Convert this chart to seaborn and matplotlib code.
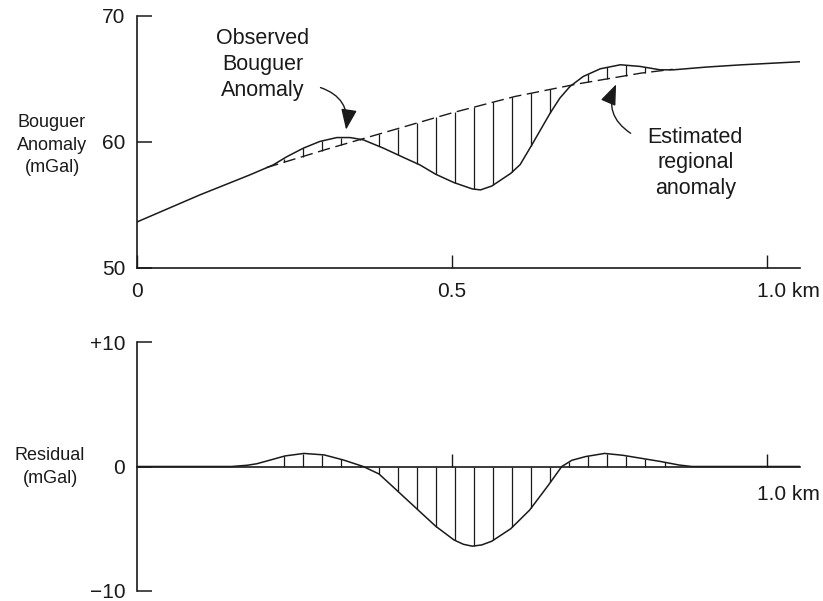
import matplotlib
matplotlib.use("Agg")
import numpy as np
import matplotlib.pyplot as plt
import matplotlib.transforms as mtransforms
from matplotlib.patches import FancyArrowPatch
import seaborn as sns

# Observed Bouguer anomaly along the profile (distance in km, anomaly in mGal)
obs_km = [0.0, 0.1, 0.179, 0.216, 0.238, 0.264, 0.29, 0.317, 0.338, 0.359,
          0.391, 0.423, 0.449, 0.474, 0.503, 0.532, 0.545, 0.563, 0.593,
          0.608, 0.6265, 0.6556, 0.671, 0.687, 0.708, 0.735, 0.767, 0.798,
          0.830, 0.851, 0.904, 0.957, 1.052]
obs_mgal = [53.65, 55.8, 57.38, 58.17, 58.83, 59.5, 60.03, 60.34, 60.34, 60.16,
            59.5, 58.76, 58.17, 57.43, 56.77, 56.27, 56.19, 56.5, 57.5,
            58.2, 59.76, 62.28, 63.47, 64.39, 65.18, 65.79, 66.11, 65.98,
            65.71, 65.71, 65.93, 66.1, 66.35]

# Estimated regional trend (dashed)
reg_km = [0.205, 0.30, 0.40, 0.50, 0.60, 0.70, 0.80, 0.85]
reg_mgal = [57.95, 59.4, 60.85, 62.3, 63.6, 64.6, 65.45, 65.75]

# Residual anomaly = observed - regional
res_km = [0.0, 0.15, 0.175, 0.19, 0.203, 0.235, 0.265, 0.297, 0.327, 0.359,
          0.384, 0.413, 0.444, 0.474, 0.503, 0.518, 0.532, 0.547, 0.563,
          0.593, 0.623, 0.652, 0.674, 0.69, 0.712, 0.742, 0.771, 0.801,
          0.831, 0.86, 0.88, 1.052]
res_mgal = [0.0, 0.0, 0.1, 0.22, 0.4, 0.85, 1.05, 0.93, 0.53, 0.0,
            -0.6, -1.95, -3.4, -4.8, -5.9, -6.25, -6.4, -6.3, -6.0,
            -5.0, -3.5, -1.55, 0.0, 0.5, 0.8, 1.05, 0.9, 0.65,
            0.4, 0.12, 0.0, 0.0]

top_yticks = [50, 60, 70]
top_xticks = [0.0, 0.5, 1.0]
top_xlabels = ["0", "0.5", "1.0 km"]
bot_yticks = [-10, 0, 10]
bot_ylabels = ["\u221210", "0", "+10"]
bot_xticks = [0.5, 1.0]
bot_xlabels = ["", "1.0 km"]

INK = "#1a1a1a"
W, H = 823, 601

sns.set_theme(style="white")
plt.rcParams["font.family"] = ["Liberation Sans", "DejaVu Sans"]
NARROW = ["Liberation Sans Narrow", "Liberation Sans", "DejaVu Sans"]

fig = plt.figure(figsize=(W / 100, H / 100), dpi=100)
ax1 = fig.add_axes([137 / W, (H - 268) / H, (800 - 137) / W, (268 - 15.7) / H])
ax2 = fig.add_axes([137 / W, (H - 591) / H, (800 - 137) / W, (591 - 342) / H])

# ---- upper panel: observed vs regional ----
sns.lineplot(x=obs_km, y=obs_mgal, ax=ax1, color=INK, lw=1.1)
sns.lineplot(x=reg_km, y=reg_mgal, ax=ax1, color=INK, lw=1.0,
             linestyle=(0, (9, 4)))

hatch_x = np.arange(0.233, 0.845, 0.0302)
o = np.interp(hatch_x, obs_km, obs_mgal)
r = np.interp(hatch_x, reg_km, reg_mgal)
ax1.vlines(hatch_x, np.minimum(o, r), np.maximum(o, r), color=INK, lw=0.9)

ax1.set_xlim(0, 1.052)
ax1.set_ylim(50, 70)
sns.despine(ax=ax1)
for s in ("left", "bottom"):
    ax1.spines[s].set_linewidth(1.2)
    ax1.spines[s].set_color(INK)
ax1.set_yticks(top_yticks)
ax1.set_yticklabels([str(v) for v in top_yticks])
ax1.set_xticks(top_xticks)
ax1.set_xticklabels(top_xlabels)
ax1.tick_params(axis="y", left=True, direction="in", length=11, width=1.1,
                pad=8.5, labelsize=15, colors=INK)
ax1.tick_params(axis="x", bottom=True, direction="in", length=9.5, width=1.0,
                pad=10, labelsize=15, colors=INK)
ax1.set_xlabel("")
ax1.set_ylabel("")

ax1.text(0.2, 66.11, "Observed\nBouguer\nAnomaly", ha="center", va="center",
         fontsize=15.5, color=INK, linespacing=1.3)
ax1.text(0.886, 58.33, "Estimated\nregional\nanomaly", ha="center",
         va="center", fontsize=15.5, color=INK, linespacing=1.3)

ax1.add_patch(FancyArrowPatch((0.287, 64.37), (0.331, 60.75),
                              connectionstyle="arc3,rad=-0.45",
                              arrowstyle="-|>,head_length=0.9,head_width=0.35",
                              mutation_scale=14, color=INK, lw=1.0))
ax1.add_patch(FancyArrowPatch((0.787, 60.56), (0.762, 64.76),
                              connectionstyle="arc3,rad=-0.45",
                              arrowstyle="-|>,head_length=0.9,head_width=0.35",
                              mutation_scale=14, color=INK, lw=1.0))

# ---- lower panel: residual ----
sns.lineplot(x=res_km, y=res_mgal, ax=ax2, color=INK, lw=1.1)
rh = np.interp(hatch_x, res_km, res_mgal)
ax2.vlines(hatch_x, np.minimum(rh, 0), np.maximum(rh, 0), color=INK, lw=0.9)

ax2.set_xlim(0, 1.052)
ax2.set_ylim(-10, 10)
sns.despine(ax=ax2)
ax2.spines["bottom"].set_position(("data", 0))
for s in ("left", "bottom"):
    ax2.spines[s].set_linewidth(1.2)
    ax2.spines[s].set_color(INK)
ax2.set_yticks(bot_yticks)
ax2.set_yticklabels(bot_ylabels)
ax2.set_xticks(bot_xticks)
ax2.set_xticklabels(bot_xlabels)
ax2.tick_params(axis="y", left=True, direction="in", length=11, width=1.1,
                pad=8.5, labelsize=15, colors=INK)
ax2.tick_params(axis="x", bottom=True, direction="in", length=9.5, width=1.0,
                pad=13, labelsize=15, colors=INK)
ax2.set_xlabel("")
ax2.set_ylabel("")

# keep "1.0" centred on its tick with the unit trailing to the right
shift = mtransforms.ScaledTranslation(-10.5 / 100, 0, fig.dpi_scale_trans)
for ax in (ax1, ax2):
    lab = ax.get_xticklabels()[-1]
    lab.set_horizontalalignment("left")
    lab.set_transform(lab.get_transform() + shift)

fig.text(52 / W, (H - 145) / H, "Bouguer\nAnomaly\n(mGal)", ha="center",
         va="center", fontsize=13, family=NARROW, color=INK, linespacing=1.45)
fig.text(50 / W, (H - 467) / H, "Residual\n(mGal)", ha="center",
         va="center", fontsize=13, family=NARROW, color=INK, linespacing=1.45)

fig.savefig("out.png", dpi=100, facecolor="white")
